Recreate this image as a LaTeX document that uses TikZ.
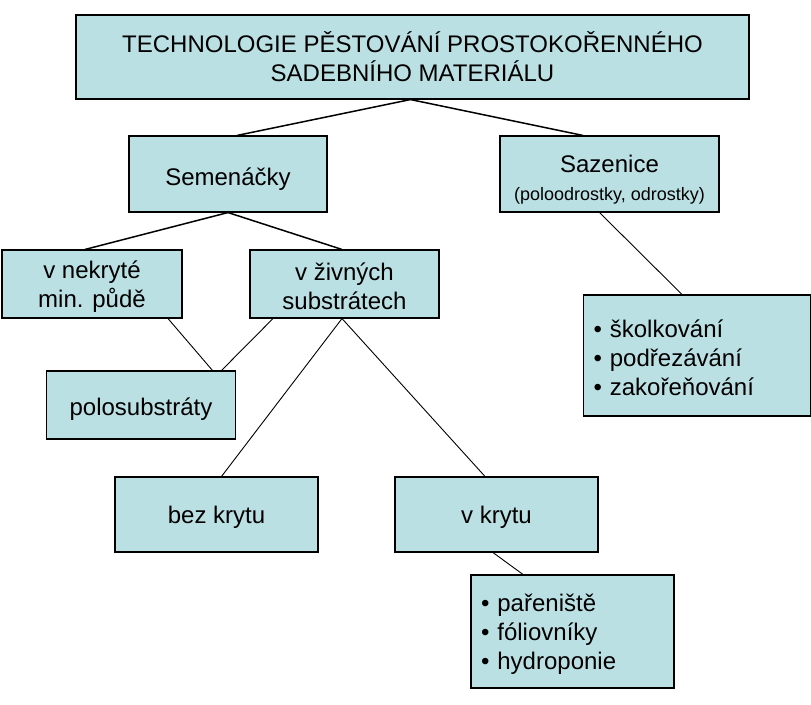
\documentclass[tikz,border=0pt]{standalone}
\usepackage{fontspec}
\setmainfont{Liberation Sans}
\definecolor{boxfill}{HTML}{BBE0E3}
\newcommand{\lift}[1]{\rule{0pt}{#1pt}}
\begin{document}
\begin{tikzpicture}[x=1pt,y=-1pt,
  box/.style={draw=black, line width=1.1pt, fill=boxfill, inner sep=0pt, align=center,
    font=\fontsize{24}{29}\selectfont},
  bulletbox/.style={box, align=left, inner xsep=10pt},
  thicklink/.style={line width=1.5pt},
  thinlink/.style={line width=0.9pt}]
\useasboundingbox (0,0) rectangle (811,704);
\fill[white] (0,0) rectangle (811,704);

\node[box, minimum width=673pt, minimum height=84pt] (top) at (412.5,57)
  {TECHNOLOGIE PĚSTOVÁNÍ PROSTOKOŘENNÉHO\\SADEBNÍHO MATERIÁLU};
\node[box, minimum width=198pt, minimum height=76pt] (sem) at (228,174) {\lift{28.5}Semenáčky};
\node[box, minimum width=219pt, minimum height=76pt] (saz) at (609.5,174)
  {\lift{29.5}Sazenice\\[-1pt]{\fontsize{18}{22}\selectfont (poloodrostky, odrostky)}};
\node[box, minimum width=180pt, minimum height=68pt] (nek) at (92,284) {\lift{22.5}v nekryté\\min. půdě};
\node[box, minimum width=189pt, minimum height=68pt] (ziv) at (344.5,284) {\lift{22.5}v živných\\substrátech};
\node[box, minimum width=189pt, minimum height=68pt] (poly) at (141,405) {\lift{26.5}polosubstráty};
\node[box, minimum width=203pt, minimum height=75pt] (bez) at (216.5,514.5) {\lift{23.5}bez krytu};
\node[box, minimum width=203pt, minimum height=75pt] (kry) at (496.5,514.5) {\lift{23.5}v krytu};
\node[bulletbox, text width=207pt, minimum height=121pt] (skol) at (697,355.5)
  {\lift{22.5}\textbullet\ školkování\\\textbullet\ podřezávání\\\textbullet\ zakořeňování};
\node[bulletbox, text width=183pt, minimum height=113pt] (par) at (572.5,631.5)
  {\lift{22.5}\textbullet\ pařeniště\\\textbullet\ fóliovníky\\\textbullet\ hydroponie};

\draw[thicklink] ([xshift=-2pt]top.south) -- ([xshift=9pt]sem.north);
\draw[thicklink] ([xshift=-2pt]top.south) -- ([xshift=-26.5pt]saz.north);
\draw[thicklink] (sem.south) -- ([xshift=-7pt]nek.north);
\draw[thicklink] (sem.south) -- ([xshift=-2.5pt]ziv.north);
\draw[thinlink] ([xshift=-10pt]saz.south) -- ([xshift=-15pt]skol.north);
\draw[thinlink] ([xshift=76pt]nek.south) -- ([xshift=71.5pt]poly.north);
\draw[thinlink] ([xshift=-71.5pt]ziv.south) -- ([xshift=80.5pt]poly.north);
\draw[thinlink] ([xshift=-2.5pt]ziv.south) -- ([xshift=5pt]bez.north);
\draw[thinlink] ([xshift=-2.5pt]ziv.south) -- ([xshift=-11.5pt]kry.north);
\draw[thinlink] ([xshift=-3.5pt]kry.south) -- ([xshift=-49.5pt]par.north);
\end{tikzpicture}
\end{document}
